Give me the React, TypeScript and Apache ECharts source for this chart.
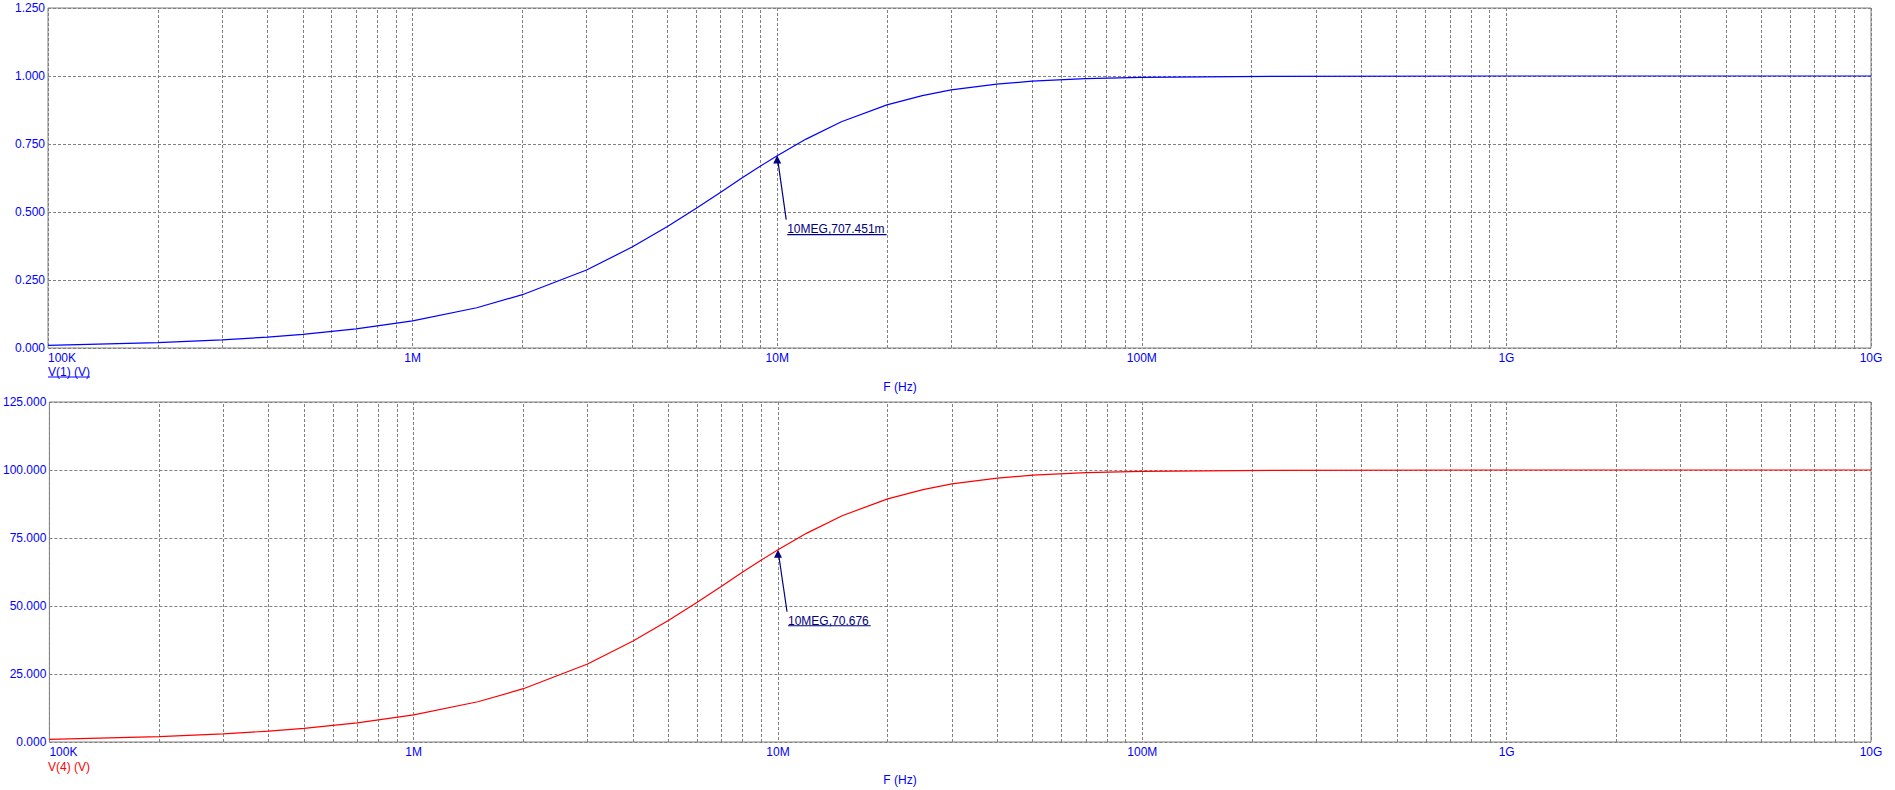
import React, { useEffect, useRef } from 'react';
import * as echarts from 'echarts';

const FONT = 'Arial, "Liberation Sans", sans-serif';
const BLUE = '#0000FF';
const RED = '#FF0000';
const NAVY = '#000080';
const GRAY = '#808080';

// Frequency samples (Hz)
const freqs = [1e5, 2e5, 3e5, 4e5, 5e5, 7e5, 1e6, 1.5e6, 2e6, 3e6, 4e6, 5e6, 6e6, 7e6, 8e6, 9e6, 1e7, 1.2e7, 1.5e7, 2e7, 2.5e7, 3e7, 4e7, 5e7, 7e7, 1e8, 1.8e8, 1e9, 1e10];
// V(1) in volts
const v1 = [0.010, 0.020, 0.030, 0.040, 0.050, 0.070, 0.0995, 0.148, 0.196, 0.287, 0.371, 0.447, 0.514, 0.573, 0.625, 0.669, 0.707, 0.768, 0.832, 0.894, 0.928, 0.949, 0.970, 0.981, 0.990, 0.995, 0.998, 1.000, 1.000];
// V(4) in volts
const v4 = [1.0, 2.0, 3.0, 4.0, 5.0, 7.0, 9.95, 14.8, 19.6, 28.7, 37.1, 44.7, 51.4, 57.3, 62.5, 66.9, 70.7, 76.8, 83.2, 89.4, 92.8, 94.9, 97.0, 98.1, 99.0, 99.5, 99.8, 100.0, 100.0];

// x tick labels per decade (1e5 .. 1e10)
const xTickLabels = ['100K', '1M', '10M', '100M', '1G', '10G'];
const decades = [1e5, 1e6, 1e7, 1e8, 1e9];
const minorMultipliers = [2, 3, 4, 5, 6, 7, 8, 9];

// Cursor annotations
const cursor1 = [1e7, 0.707451];
const cursor1Label = '10MEG,707.451m';
const cursor4 = [1e7, 70.676];
const cursor4Label = '10MEG,70.676';

const dash = [3, 2];

function minorLines() {
  const out: any[] = [];
  decades.forEach((d) => minorMultipliers.forEach((m) => out.push({ xAxis: d * m })));
  return out;
}

function xAxisCfg(gridIndex: number) {
  return {
    type: 'log',
    logBase: 10,
    gridIndex,
    min: 1e5,
    max: 1e10,
    splitNumber: 5,
    axisLine: { show: false },
    axisTick: { show: false },
    axisLabel: {
      color: BLUE,
      fontFamily: FONT,
      fontSize: 12,
      margin: 4,
      alignMinLabel: 'left',
      formatter: (v: number) => xTickLabels[Math.round(Math.log10(v)) - 5] ?? '',
    },
    splitLine: { show: true, lineStyle: { color: GRAY, type: dash, width: 1 } },
  };
}

function yAxisCfg(gridIndex: number, max: number, interval: number) {
  return {
    type: 'value',
    gridIndex,
    min: 0,
    max,
    interval,
    axisLine: { show: false },
    axisTick: { show: false },
    axisLabel: {
      color: BLUE,
      fontFamily: FONT,
      fontSize: 12,
      margin: 3,
      formatter: (v: number) => v.toFixed(3),
    },
    splitLine: { show: true, lineStyle: { color: GRAY, type: dash, width: 1 } },
  };
}

function seriesCfg(idx: number, values: number[], color: string) {
  return {
    type: 'line',
    xAxisIndex: idx,
    yAxisIndex: idx,
    data: freqs.map((f, i) => [f, values[i]]),
    showSymbol: false,
    smooth: false,
    lineStyle: { color, width: 1.2 },
    itemStyle: { color },
    z: 3,
    markLine: {
      silent: true,
      symbol: 'none',
      label: { show: false },
      lineStyle: { color: GRAY, type: dash, width: 1 },
      emphasis: { disabled: true },
      data: minorLines(),
      z: 1,
    },
  };
}

function textW(s: string, font: string) {
  const c = document.createElement('canvas').getContext('2d');
  if (!c) return s.length * 7;
  c.font = font;
  return c.measureText(s).width;
}

function annotation(p: number[], label: string, textDy: number, lineDy: number) {
  const [x, y] = p;
  const w = textW(label, '12px ' + FONT);
  return [
    {
      type: 'polygon',
      shape: { points: [[x, y], [x - 4, y + 8], [x + 4, y + 8]] },
      style: { fill: NAVY },
      z: 10,
    },
    {
      type: 'line',
      shape: { x1: x + 0.5, y1: y + 4, x2: x + 9, y2: y + textDy - 3 },
      style: { stroke: NAVY, lineWidth: 1.2 },
      z: 10,
    },
    {
      type: 'text',
      x: x + 10,
      y: y + textDy,
      style: { text: label, fill: NAVY, font: '12px ' + FONT, textVerticalAlign: 'top' },
      z: 10,
    },
    {
      type: 'line',
      shape: { x1: x + 10, y1: y + lineDy, x2: x + 10 + w + 2, y2: y + lineDy },
      style: { stroke: NAVY, lineWidth: 1.2 },
      z: 10,
    },
  ];
}

export default function App() {
  const ref = useRef<HTMLDivElement>(null);
  useEffect(() => {
    document.body.style.margin = '0';
    const chart = echarts.init(ref.current!, null, { renderer: 'svg' });
    const gridCommon = {
      left: 48,
      width: 1823,
      height: 340,
      show: true,
      borderColor: GRAY,
      borderWidth: 1,
      backgroundColor: 'transparent',
    };
    chart.setOption({
      animation: false,
      backgroundColor: '#fff',
      textStyle: { fontFamily: FONT },
      grid: [
        { ...gridCommon, top: 8 },
        { ...gridCommon, top: 402 },
      ],
      xAxis: [xAxisCfg(0), xAxisCfg(1)],
      yAxis: [yAxisCfg(0, 1.25, 0.25), yAxisCfg(1, 125, 25)],
      series: [seriesCfg(0, v1, BLUE), seriesCfg(1, v4, RED)],
    });

    const p1 = chart.convertToPixel({ gridIndex: 0 }, cursor1) as number[];
    const p4 = chart.convertToPixel({ gridIndex: 1 }, cursor4) as number[];
    const wV1 = textW('V(1) (V)', '12px ' + FONT);

    chart.setOption({
      graphic: [
        {
          type: 'text',
          x: 48,
          y: 366,
          style: { text: 'V(1) (V)', fill: BLUE, font: '12px ' + FONT, textVerticalAlign: 'top' },
        },
        {
          type: 'line',
          shape: { x1: 48, y1: 377, x2: 48 + wV1, y2: 377 },
          style: { stroke: BLUE, lineWidth: 1 },
        },
        {
          type: 'text',
          x: 900,
          y: 387,
          style: { text: 'F (Hz)', fill: BLUE, font: '12px ' + FONT, textAlign: 'center', textVerticalAlign: 'middle' },
        },
        {
          type: 'text',
          x: 48,
          y: 761,
          style: { text: 'V(4) (V)', fill: RED, font: '12px ' + FONT, textVerticalAlign: 'top' },
        },
        {
          type: 'text',
          x: 900,
          y: 780,
          style: { text: 'F (Hz)', fill: BLUE, font: '12px ' + FONT, textAlign: 'center', textVerticalAlign: 'middle' },
        },
        ...annotation(p1, cursor1Label, 67, 79),
        ...annotation(p4, cursor4Label, 65, 76),
      ],
    });
    return () => chart.dispose();
  }, []);
  return <div ref={ref} style={{ width: 1895, height: 790 }} />;
}
